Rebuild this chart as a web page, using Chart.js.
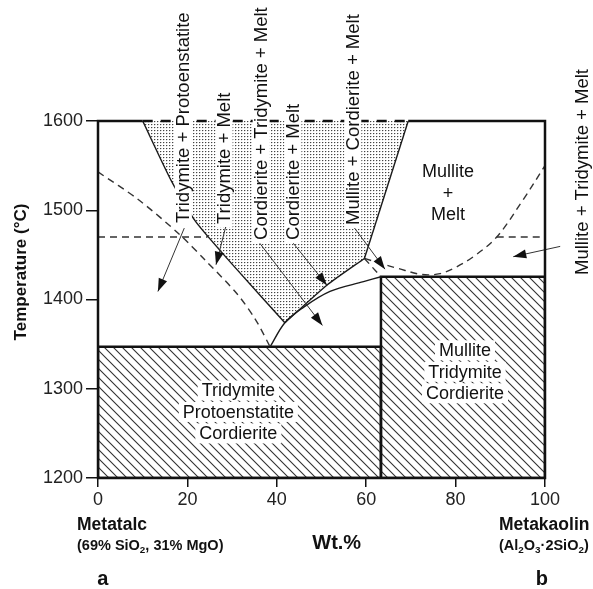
<!DOCTYPE html>
<html><head><meta charset="utf-8">
<script src="https://cdn.jsdelivr.net/npm/chart.js@4"></script>
<style>html,body{margin:0;padding:0;background:#fff}canvas{display:block}</style>
</head><body>
<canvas id="c" width="593" height="589"></canvas>
<script>
// ---------- data (Wt.% metakaolin, temperature °C) ----------
const xTickValues = [0, 20, 40, 60, 80, 100];
const yTickValues = [1200, 1300, 1400, 1500, 1600];

const rectLeftX = [0, 63.3, 63.3, 0, 0];
const rectLeftY = [1200, 1200, 1347, 1347, 1200];
const rectRightX = [63.3, 100, 100, 63.3, 63.3];
const rectRightY = [1200, 1200, 1425.5, 1425.5, 1200];

const stippleX = [10, 69.4, 59.6, 51.2, 41.8, 31, 21.9, 16.5, 10];
const stippleY = [1600, 1600, 1446, 1416, 1374, 1434, 1487, 1532, 1600];

const solidLeftX = [10, 16.5, 21.9, 31, 41.8];
const solidLeftY = [1600, 1532, 1487, 1434, 1374];
const solidRightX = [69.4, 59.6];
const solidRightY = [1600, 1446];
const solidInnerX = [59.6, 51.2, 41.8];
const solidInnerY = [1446, 1416, 1374];
const cordCurveX = [38.5, 41.8, 45.6, 51.9, 59.4, 63.3];
const cordCurveY = [1347, 1374, 1390, 1409, 1420, 1425.5];

const dashLeftX = [0, 9, 18, 24, 31, 35.3, 38.5];
const dashLeftY = [1543, 1512, 1474, 1444, 1407, 1377, 1347];
const dashLeftFlatX = [0, 24.5];
const dashLeftFlatY = [1470, 1470];
const dashRightX = [59.6, 63.5, 67, 72.5, 76.5, 80, 84, 89.2, 95, 100];
const dashRightY = [1446, 1440, 1435, 1428, 1429, 1436, 1448, 1470, 1511, 1550];
const dashRightFlatX = [89.2, 100];
const dashRightFlatY = [1470, 1470];
const dashShortX = [59.6, 63.3];
const dashShortY = [1446, 1425.5];

const arrowFromX = [19.3, 28.6, 36.2, 43.7, 57.1, 103.4];
const arrowFromY = [1480, 1482, 1463, 1463, 1482, 1459.5];
const arrowToX = [13.4, 26.4, 50.2, 51.2, 64.2, 92.9];
const arrowToY = [1409, 1439, 1371, 1416, 1434, 1448];

const rotLabels = ['Tridymite + Protoenstatite', 'Tridymite + Melt', 'Cordierite + Tridymite + Melt',
                   'Cordierite + Melt', 'Mullite + Cordierite + Melt', 'Mullite + Tridymite + Melt'];
const rotX = [19.1, 28.2, 36.5, 43.6, 57.0, 108.3];
const rotY = [1485.7, 1484.6, 1466.7, 1466.7, 1483.5, 1427.5];

const blockLabels = [['Mullite', '+', 'Melt'], ['Tridymite', 'Protoenstatite', 'Cordierite'], ['Mullite', 'Tridymite', 'Cordierite']];
const blockX = [78.3, 31.4, 82.1];
const blockY = [1519.3, 1274, 1319];
const blockBg = [false, true, true];

// ---------- styles ----------
const FONT = '"Liberation Sans", Arial, Helvetica, sans-serif';
const canvas = document.getElementById('c');
const ctx0 = canvas.getContext('2d');

function makeHatch() {
  const t = document.createElement('canvas'); t.width = 9; t.height = 9;
  const g = t.getContext('2d');
  g.strokeStyle = '#333'; g.lineWidth = 1.1;
  g.beginPath();
  g.moveTo(-2, -2); g.lineTo(11, 11);
  g.moveTo(-2, 7); g.lineTo(2, 11);
  g.moveTo(7, -2); g.lineTo(11, 2);
  g.stroke();
  return ctx0.createPattern(t, 'repeat');
}
function makeStipple() {
  const t = document.createElement('canvas'); t.width = 3; t.height = 3;
  const g = t.getContext('2d');
  g.fillStyle = '#fff'; g.fillRect(0, 0, 3, 3);
  g.fillStyle = '#444'; g.fillRect(1, 1, 1, 1);
  g.fillStyle = '#c8c8c8'; g.fillRect(2, 1, 1, 1);
  g.fillStyle = '#e4e4e4'; g.fillRect(1, 2, 1, 1);
  return ctx0.createPattern(t, 'repeat');
}
const hatch = makeHatch();
const stipple = makeStipple();

const pts = (xs, ys) => xs.map((x, i) => ({x, y: ys[i]}));
const base = {pointRadius: 0, pointHoverRadius: 0, fill: false, tension: 0};
function solid(xs, ys, tension) {
  return Object.assign({}, base, {data: pts(xs, ys), borderColor: '#1a1a1a', borderWidth: 1.4, tension: tension || 0, order: 5});
}
function dashed(xs, ys, tension) {
  return Object.assign({}, base, {data: pts(xs, ys), borderColor: '#333', borderWidth: 1.4, borderDash: [7, 5], tension: tension || 0, order: 5});
}

const datasets = [
  Object.assign({}, base, {data: pts(rectLeftX, rectLeftY), fill: 'shape', backgroundColor: hatch, borderColor: '#111', borderWidth: 2.5, order: 10}),
  Object.assign({}, base, {data: pts(rectRightX, rectRightY), fill: 'shape', backgroundColor: hatch, borderColor: '#111', borderWidth: 2.5, order: 10}),
  Object.assign({}, base, {data: pts(stippleX, stippleY), fill: 'shape', backgroundColor: stipple, borderColor: 'rgba(0,0,0,0)', borderWidth: 0, order: 9}),
  solid(solidLeftX, solidLeftY, 0.2),
  solid(solidRightX, solidRightY),
  solid(solidInnerX, solidInnerY, 0.2),
  solid(cordCurveX, cordCurveY, 0.35),
  dashed(dashLeftX, dashLeftY, 0.3),
  dashed(dashLeftFlatX, dashLeftFlatY),
  dashed(dashRightX, dashRightY, 0.35),
  dashed(dashRightFlatX, dashRightFlatY),
  dashed(dashShortX, dashShortY),
];
arrowFromX.forEach((fx, i) => {
  datasets.push(Object.assign({}, base, {
    data: pts([fx, arrowToX[i]], [arrowFromY[i], arrowToY[i]]),
    borderColor: '#333', borderWidth: 1, clip: false, order: 1, arrow: true
  }));
});

function richText(ctx, parts, x, y, size) {
  let cx = x;
  for (const p of parts) {
    const s = p.sub ? size * 0.68 : size;
    ctx.font = `bold ${s}px ${FONT}`;
    ctx.fillText(p.t, cx, y + (p.sub ? size * 0.3 : 0));
    cx += ctx.measureText(p.t).width;
  }
}

const decor = {
  id: 'decor',
  afterDatasetsDraw(chart) {
    const {ctx, chartArea: a, scales} = chart;
    const X = v => scales.x.getPixelForValue(v), Y = v => scales.y.getPixelForValue(v);
    ctx.save();
    // arrowheads
    chart.data.datasets.forEach((ds, i) => {
      if (!ds.arrow) return;
      const el = chart.getDatasetMeta(i).data;
      const p1 = el[el.length - 2], p2 = el[el.length - 1];
      const ang = Math.atan2(p2.y - p1.y, p2.x - p1.x);
      ctx.save(); ctx.translate(p2.x, p2.y); ctx.rotate(ang);
      ctx.beginPath(); ctx.moveTo(0, 0); ctx.lineTo(-13, -4.5); ctx.lineTo(-13, 4.5); ctx.closePath();
      ctx.fillStyle = '#111'; ctx.fill(); ctx.restore();
    });
    // frame
    ctx.strokeStyle = '#111'; ctx.lineWidth = 2.5; ctx.lineJoin = 'miter';
    ctx.beginPath();
    ctx.moveTo(X(stippleX[0]), a.top); ctx.lineTo(a.left, a.top); ctx.lineTo(a.left, a.bottom);
    ctx.lineTo(a.right, a.bottom); ctx.lineTo(a.right, a.top); ctx.lineTo(X(stippleX[1]), a.top);
    ctx.stroke();
    ctx.setLineDash([10, 8]);
    ctx.beginPath(); ctx.moveTo(X(stippleX[0]), a.top); ctx.lineTo(X(stippleX[1]), a.top); ctx.stroke();
    ctx.setLineDash([]);
    // rotated labels
    ctx.font = `18.5px ${FONT}`;
    rotLabels.forEach((t, i) => {
      const px = X(rotX[i]), py = Y(rotY[i]);
      const w = ctx.measureText(t).width;
      ctx.save(); ctx.translate(px, py); ctx.rotate(-Math.PI / 2);
      ctx.fillStyle = '#fff'; ctx.fillRect(-3, -8.5, w + 6, 17);
      ctx.fillStyle = '#111'; ctx.textAlign = 'left'; ctx.textBaseline = 'middle';
      ctx.fillText(t, 0, 1);
      ctx.restore();
    });
    // block labels
    ctx.font = `18px ${FONT}`;
    ctx.textAlign = 'center'; ctx.textBaseline = 'middle';
    blockLabels.forEach((lines, i) => {
      const cx = X(blockX[i]), cy = Y(blockY[i]);
      lines.forEach((t, j) => {
        const ly = cy + (j - (lines.length - 1) / 2) * 21.5;
        const w = ctx.measureText(t).width;
        if (blockBg[i]) { ctx.fillStyle = '#fff'; ctx.fillRect(cx - w / 2 - 4, ly - 10, w + 8, 20); }
        ctx.fillStyle = '#111'; ctx.fillText(t, cx, ly + 1);
      });
    });
    // axis annotations
    ctx.fillStyle = '#111';
    ctx.save(); ctx.translate(a.left - 77, a.top + 151); ctx.rotate(-Math.PI / 2);
    ctx.font = `bold 17px ${FONT}`; ctx.textAlign = 'center'; ctx.fillText('Temperature (°C)', 0, 0);
    ctx.restore();
    ctx.textAlign = 'left';
    ctx.font = `bold 17.5px ${FONT}`;
    ctx.fillText('Metatalc', a.left - 21, a.bottom + 47);
    ctx.fillText('Metakaolin', a.left + 401, a.bottom + 47);
    richText(ctx, [{t: '(69% SiO'}, {t: '2', sub: true}, {t: ', 31% MgO)'}], a.left - 21, a.bottom + 68, 14.5);
    richText(ctx, [{t: '(Al'}, {t: '2', sub: true}, {t: 'O'}, {t: '3', sub: true}, {t: '·2SiO'}, {t: '2', sub: true}, {t: ')'}], a.left + 401, a.bottom + 68, 14.5);
    ctx.textAlign = 'center';
    ctx.font = `bold 20px ${FONT}`;
    ctx.fillText('Wt.%', X(53.4), a.bottom + 65);
    ctx.fillText('a', X(1.1), a.bottom + 101);
    ctx.fillText('b', X(99.3), a.bottom + 101);
    ctx.restore();
  }
};

const tickFont = {family: FONT, size: 18};
new Chart(canvas, {
  type: 'line',
  data: {datasets},
  options: {
    responsive: false, animation: false, devicePixelRatio: 1, events: [],
    layout: {padding: {left: 0, top: 121, right: 48, bottom: 81}},
    plugins: {legend: {display: false}, tooltip: {enabled: false}},
    scales: {
      x: {
        type: 'linear', min: 0, max: 100,
        afterBuildTicks: s => { s.ticks = xTickValues.map(v => ({value: v})); },
        afterFit: s => { s.height = 30; },
        ticks: {font: tickFont, color: '#222', padding: 2, maxRotation: 0, autoSkip: false, callback: v => String(v)},
        grid: {drawOnChartArea: false, drawTicks: true, tickLength: 9, color: '#111', lineWidth: 1.5},
        border: {display: false}
      },
      y: {
        type: 'linear', min: 1200, max: 1600,
        afterBuildTicks: s => { s.ticks = yTickValues.map(v => ({value: v})); },
        afterFit: s => { s.width = 98; },
        ticks: {font: tickFont, color: '#222', padding: 3, autoSkip: false, callback: v => String(v)},
        grid: {drawOnChartArea: false, drawTicks: true, tickLength: 12, color: '#111', lineWidth: 1.5},
        border: {display: false}
      }
    }
  },
  plugins: [decor]
});
</script>
</body></html>
